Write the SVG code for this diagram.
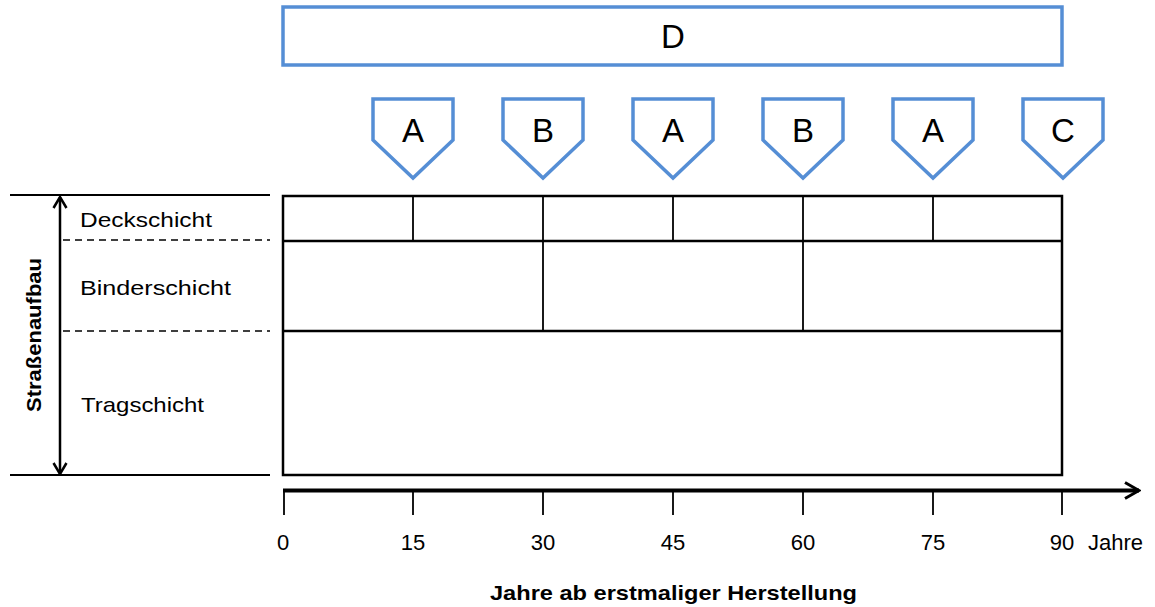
<svg xmlns="http://www.w3.org/2000/svg" width="1155" height="607" viewBox="0 0 1155 607">
<style>
.blue{fill:#fff;stroke:#558ED5;stroke-width:3.5}
.lbl{font-family:"Liberation Sans",Arial,sans-serif;fill:#000}
.big{font-size:33px;text-anchor:middle}
.ln{stroke:#000;stroke-width:2.5;fill:none}
.thin{stroke:#000;stroke-width:1.8;fill:none}
.dash{stroke:#000;stroke-width:1.5;stroke-dasharray:7,5;fill:none}
.tick{font-size:22px;text-anchor:middle}
.layer{font-size:21px}
</style>
<defs>
<marker id="chev" viewBox="0 0 20 20" refX="18" refY="10" markerWidth="20" markerHeight="20" markerUnits="userSpaceOnUse" orient="auto-start-reverse">
<path d="M4,2 L18,10 L4,18" fill="none" stroke="#000" stroke-width="3"/>
</marker>
<marker id="chev2" viewBox="0 0 16 16" refX="14" refY="8" markerWidth="16" markerHeight="16" markerUnits="userSpaceOnUse" orient="auto-start-reverse">
<path d="M3,1.5 L14,8 L3,14.5" fill="none" stroke="#000" stroke-width="2.5"/>
</marker>
<path id="pent" d="M-40,0 H40 V41 L0,79 L-40,41 Z"/>
</defs>
<rect width="1155" height="607" fill="#fff"/>

<g id="D">
<rect class="blue" x="283" y="7" width="779" height="58"/>
<text class="lbl big" x="673" y="48">D</text>
</g>

<g id="m1"><use href="#pent" class="blue" x="413" y="99"/><text class="lbl big" x="413" y="142">A</text></g>
<g id="m2"><use href="#pent" class="blue" x="543" y="99"/><text class="lbl big" x="543" y="142">B</text></g>
<g id="m3"><use href="#pent" class="blue" x="673" y="99"/><text class="lbl big" x="673" y="142">A</text></g>
<g id="m4"><use href="#pent" class="blue" x="803" y="99"/><text class="lbl big" x="803" y="142">B</text></g>
<g id="m5"><use href="#pent" class="blue" x="933" y="99"/><text class="lbl big" x="933" y="142">A</text></g>
<g id="m6"><use href="#pent" class="blue" x="1063" y="99"/><text class="lbl big" x="1063" y="142">C</text></g>

<g id="table">
<rect class="ln" x="283" y="196" width="779" height="279"/>
<line class="ln" x1="283" y1="241" x2="1062" y2="241"/>
<line class="ln" x1="283" y1="331" x2="1062" y2="331"/>
<line class="thin" x1="413" y1="196" x2="413" y2="241"/>
<line class="thin" x1="543" y1="196" x2="543" y2="331"/>
<line class="thin" x1="673" y1="196" x2="673" y2="241"/>
<line class="thin" x1="803" y1="196" x2="803" y2="331"/>
<line class="thin" x1="933" y1="196" x2="933" y2="241"/>
</g>

<g id="left">
<line class="thin" x1="10" y1="195" x2="270" y2="195"/>
<line class="thin" x1="10" y1="475" x2="270" y2="475"/>
<line class="dash" x1="63" y1="240" x2="270" y2="240"/>
<line class="dash" x1="63" y1="331" x2="270" y2="331"/>
<text class="lbl layer" x="80" y="227" textLength="132" lengthAdjust="spacingAndGlyphs">Deckschicht</text>
<text class="lbl layer" x="80" y="295" textLength="151" lengthAdjust="spacingAndGlyphs">Binderschicht</text>
<text class="lbl layer" x="81" y="412" textLength="123" lengthAdjust="spacingAndGlyphs">Tragschicht</text>
<text class="lbl" font-size="21" font-weight="bold" text-anchor="middle" transform="translate(41,335) rotate(-90)" textLength="154" lengthAdjust="spacingAndGlyphs">Straßenaufbau</text>
</g>

<g id="connectors">
<line x1="60" y1="197" x2="60" y2="474" stroke="#000" stroke-width="2.5" marker-start="url(#chev2)" marker-end="url(#chev2)"/>
<line x1="283" y1="490.5" x2="1139" y2="490.5" stroke="#000" stroke-width="4" marker-end="url(#chev)"/>
<g class="thin">
<line x1="284" y1="490" x2="284" y2="515"/>
<line x1="413" y1="490" x2="413" y2="515"/>
<line x1="543" y1="490" x2="543" y2="515"/>
<line x1="673" y1="490" x2="673" y2="515"/>
<line x1="803" y1="490" x2="803" y2="515"/>
<line x1="933" y1="490" x2="933" y2="515"/>
<line x1="1062" y1="490" x2="1062" y2="515"/>
</g>
</g>

<g id="axis-labels">
<text class="lbl tick" x="283" y="550">0</text>
<text class="lbl tick" x="413" y="550">15</text>
<text class="lbl tick" x="543" y="550">30</text>
<text class="lbl tick" x="673" y="550">45</text>
<text class="lbl tick" x="803" y="550">60</text>
<text class="lbl tick" x="933" y="550">75</text>
<text class="lbl tick" x="1062" y="550">90</text>
<text class="lbl" font-size="22" x="1088" y="550">Jahre</text>
<text class="lbl" font-size="21" font-weight="bold" x="490" y="600" textLength="367" lengthAdjust="spacingAndGlyphs">Jahre ab erstmaliger Herstellung</text>
</g>
</svg>
